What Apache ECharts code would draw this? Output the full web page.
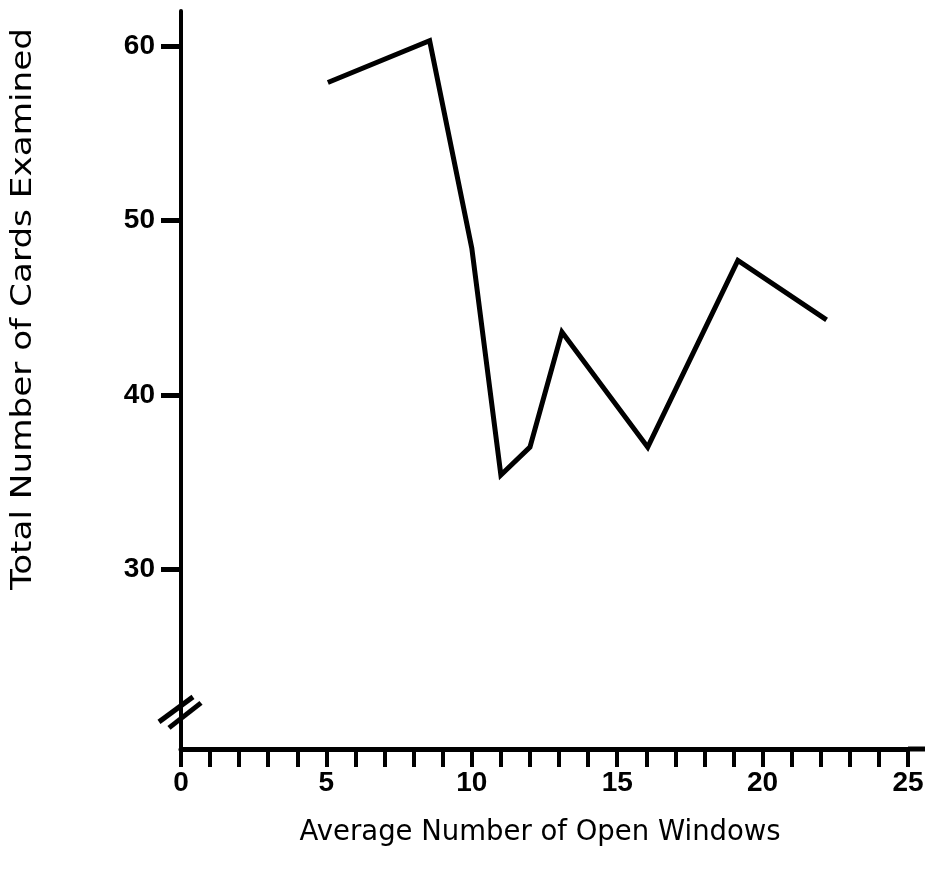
<!DOCTYPE html>
<html>
<head>
<meta charset="utf-8">
<script src="https://cdn.jsdelivr.net/npm/echarts@6/dist/echarts.min.js"></script>
<style>
html,body{margin:0;padding:0;background:#fff;}
#chart{width:933px;height:884px;}
</style>
</head>
<body>
<div id="chart"></div>
<script>
// Data
const xValues = [5.05, 8.55, 10.0, 11.0, 12.0, 13.1, 16.05, 19.15, 22.2];
const yValues = [57.9, 60.3, 48.4, 35.4, 37.0, 43.6, 37.0, 47.7, 44.3];
const yTickValues = [30, 40, 50, 60];
const xLabelValues = [0, 5, 10, 15, 20, 25];
const xTitle = 'Average Number of Open Windows';
const yTitle = 'Total Number of Cards Examined';

const FONT = 'DejaVu Sans';
const TICKFONT = 'Liberation Sans, Arial, sans-serif';
const chart = echarts.init(document.getElementById('chart'), null, {renderer: 'canvas'});

const points = xValues.map((x, i) => [x, yValues[i]]);

const option = {
  backgroundColor: '#ffffff',
  animation: false,
  grid: {left: 181, top: 11, width: 727, height: 738, containLabel: false},
  xAxis: {
    type: 'value', min: 0, max: 25, interval: 1,
    splitLine: {show: false},
    axisLine: {show: true, onZero: false, lineStyle: {color: '#000', width: 5}},
    axisTick: {show: true, length: 18, lineStyle: {color: '#000', width: 4}},
    axisLabel: {
      show: true, margin: 20, color: '#000', fontFamily: TICKFONT, fontWeight: 'bold', fontSize: 28,
      showMinLabel: true, showMaxLabel: true,
      formatter: v => xLabelValues.indexOf(Math.round(v)) >= 0 && Math.abs(v - Math.round(v)) < 1e-6 ? String(Math.round(v)) : ''
    }
  },
  yAxis: {
    type: 'value', min: 19.7, max: 62,
    splitLine: {show: false},
    axisLine: {show: true, onZero: false, lineStyle: {color: '#000', width: 4}},
    axisTick: {show: true, length: 20, customValues: yTickValues, lineStyle: {color: '#000', width: 5}},
    axisLabel: {show: true, margin: 26, color: '#000', fontFamily: TICKFONT, fontWeight: 'bold', fontSize: 28, customValues: yTickValues}
  },
  series: [{
    type: 'line',
    data: points,
    showSymbol: false,
    symbol: 'none',
    lineStyle: {color: '#000', width: 5, join: 'miter'},
    z: 5
  }]
};
chart.setOption(option);

// Decorations: axis break marks, axis extensions and titles
const origin = chart.convertToPixel({gridIndex: 0}, [0, 19.7]);
const brk = chart.convertToPixel({gridIndex: 0}, [0, 22]);
const xEnd = chart.convertToPixel({gridIndex: 0}, [25, 19.7]);
const midX = chart.convertToPixel({gridIndex: 0}, [12.35, 19.7]);

chart.setOption({
  graphic: [
    {type: 'line', shape: {x1: origin[0], y1: origin[1], x2: origin[0], y2: origin[1] + 18}, style: {stroke: '#000', lineWidth: 4}},
    {type: 'line', shape: {x1: xEnd[0], y1: xEnd[1], x2: xEnd[0] + 17, y2: xEnd[1]}, style: {stroke: '#000', lineWidth: 5}},
    {type: 'line', shape: {x1: brk[0] - 22, y1: brk[1] + 13, x2: brk[0] + 12, y2: brk[1] - 12}, style: {stroke: '#000', lineWidth: 5}},
    {type: 'line', shape: {x1: brk[0] - 12, y1: brk[1] + 19, x2: brk[0] + 20, y2: brk[1] - 6}, style: {stroke: '#000', lineWidth: 5}},
    {type: 'text', x: midX[0], y: 833, style: {text: xTitle, fontFamily: FONT, fontSize: 27.5, fill: '#000', align: 'center', verticalAlign: 'middle'}},
    {type: 'text', x: 23, y: 309, rotation: Math.PI / 2, scaleX: 1.18, style: {text: yTitle, fontFamily: FONT, fontSize: 29, fill: '#000', align: 'center', verticalAlign: 'middle'}}
  ]
});
</script>
</body>
</html>
